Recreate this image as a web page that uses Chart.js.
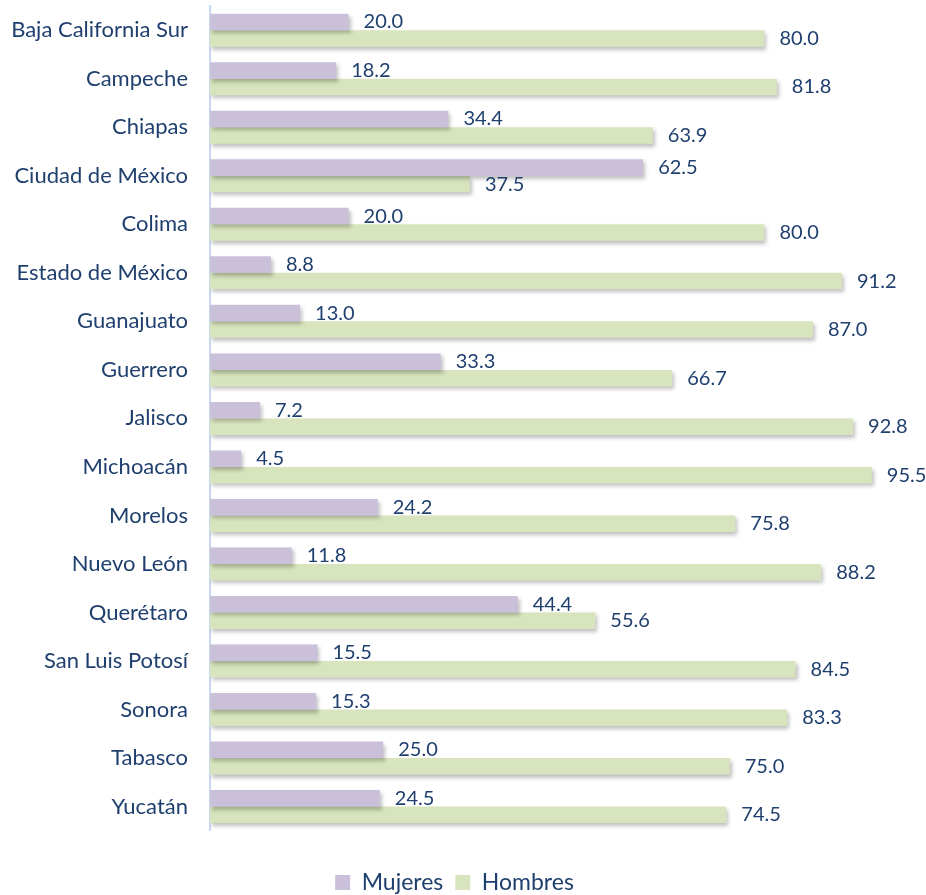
<!DOCTYPE html>
<html>
<head>
<meta charset="utf-8">
<script src="https://cdn.jsdelivr.net/npm/chart.js@4.4.0/dist/chart.umd.min.js"></script>
<style>
  html, body { margin: 0; padding: 0; background: #fff; }
  #wrap { width: 926px; height: 895px; }
</style>
</head>
<body>
<div id="wrap"><canvas id="chart" width="926" height="895"></canvas></div>
<script>
// estados
const estados = ['Baja California Sur', 'Campeche', 'Chiapas', 'Ciudad de México', 'Colima',
  'Estado de México', 'Guanajuato', 'Guerrero', 'Jalisco', 'Michoacán', 'Morelos',
  'Nuevo León', 'Querétaro', 'San Luis Potosí', 'Sonora', 'Tabasco', 'Yucatán'];

const mujeres = [20.0, 18.2, 34.4, 62.5, 20.0, 8.8, 13.0, 33.3, 7.2, 4.5, 24.2, 11.8, 44.4, 15.5, 15.3, 25.0, 24.5];
const hombres = [80.0, 81.8, 63.9, 37.5, 80.0, 91.2, 87.0, 66.7, 92.8, 95.5, 75.8, 88.2, 55.6, 84.5, 83.3, 75.0, 74.5];

const FONT = 'Lato, "Open Sans", sans-serif';
const TEXT_COLOR = '#1F3F6E';

// sombra suave debajo de las barras
const barShadow = {
  id: 'barShadow',
  beforeDatasetsDraw(chart) {
    const ctx = chart.ctx;
    ctx.save();
    ctx.shadowColor = 'rgba(0,0,0,0.25)';
    ctx.shadowBlur = 4;
    ctx.shadowOffsetX = 2;
    ctx.shadowOffsetY = 3;
  },
  afterDatasetsDraw(chart) {
    chart.ctx.restore();
  }
};

// etiquetas de valor a la derecha de cada barra
const valueLabels = {
  id: 'valueLabels',
  afterDatasetsDraw(chart) {
    const ctx = chart.ctx;
    ctx.save();
    ctx.font = '20px ' + FONT;
    ctx.fillStyle = TEXT_COLOR;
    ctx.textAlign = 'left';
    ctx.textBaseline = 'middle';
    chart.data.datasets.forEach((ds, i) => {
      chart.getDatasetMeta(i).data.forEach((bar, j) => {
        ctx.fillText(ds.data[j].toFixed(1), bar.x + 15, bar.y);
      });
    });
    ctx.restore();
  }
};

new Chart(document.getElementById('chart'), {
  type: 'bar',
  data: {
    labels: estados,
    datasets: [
      {
        label: 'Mujeres',
        data: mujeres,
        backgroundColor: '#CBC0DA',
        borderWidth: 0,
        categoryPercentage: 0.68,
        barPercentage: 1.0
      },
      {
        label: 'Hombres',
        data: hombres,
        backgroundColor: '#D7E4BD',
        borderWidth: 0,
        categoryPercentage: 0.68,
        barPercentage: 1.0
      }
    ]
  },
  options: {
    indexAxis: 'y',
    responsive: false,
    animation: false,
    layout: { padding: { top: 6, right: 23, left: 6, bottom: -9 } },
    scales: {
      x: {
        display: false,
        min: 0,
        max: 100
      },
      y: {
        grid: { display: false, drawTicks: false },
        border: { color: '#C6D9F1', width: 2 },
        ticks: {
          color: TEXT_COLOR,
          font: { family: FONT, size: 22 },
          padding: 22
        },
        afterFit(axis) {
          axis.width = 204;
          axis.paddingTop = 0;
          axis.paddingBottom = 0;
        }
      }
    },
    plugins: {
      legend: {
        position: 'bottom',
        title: { display: true, text: '', font: { size: 1 }, padding: { top: 27, bottom: 0 } },
        labels: {
          color: TEXT_COLOR,
          font: { family: FONT, size: 23 },
          boxWidth: 15,
          boxHeight: 15,
          padding: 12
        }
      },
      tooltip: { enabled: false }
    }
  },
  plugins: [barShadow, valueLabels]
});
</script>
</body>
</html>
